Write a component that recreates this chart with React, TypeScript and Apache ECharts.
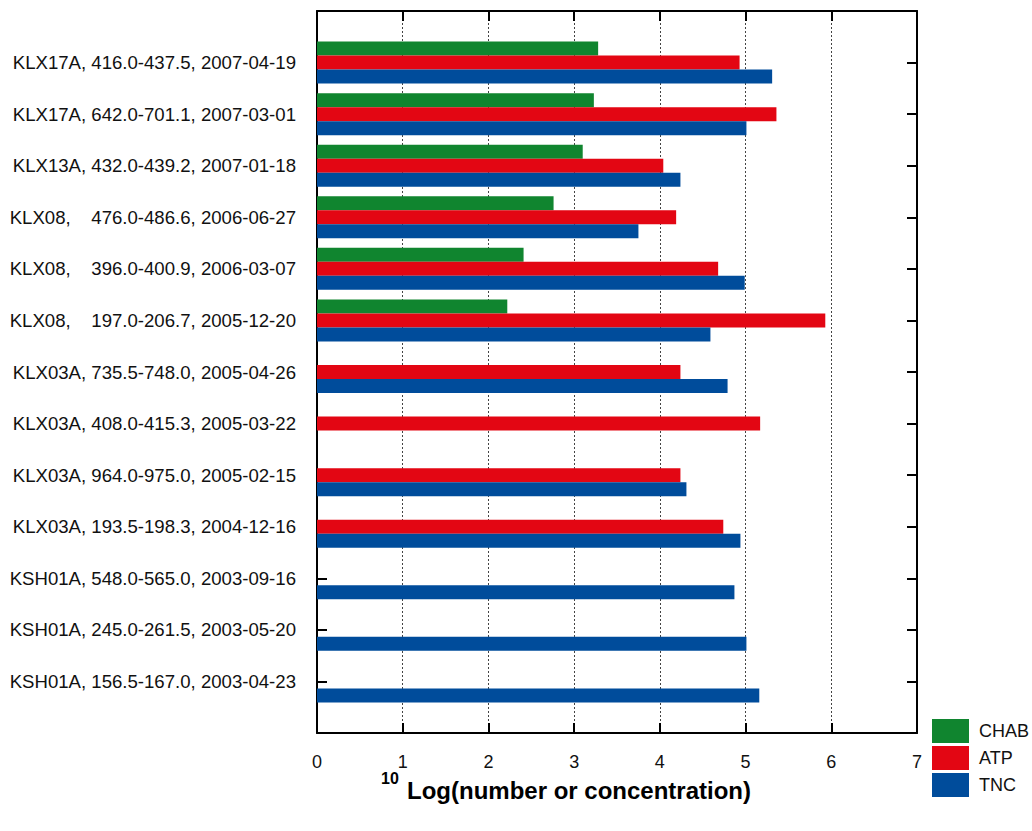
import React, { useEffect, useRef } from "react";
import * as echarts from "echarts";

const categories = [
  "KLX17A, 416.0-437.5, 2007-04-19",
  "KLX17A, 642.0-701.1, 2007-03-01",
  "KLX13A, 432.0-439.2, 2007-01-18",
  "KLX08,    476.0-486.6, 2006-06-27",
  "KLX08,    396.0-400.9, 2006-03-07",
  "KLX08,    197.0-206.7, 2005-12-20",
  "KLX03A, 735.5-748.0, 2005-04-26",
  "KLX03A, 408.0-415.3, 2005-03-22",
  "KLX03A, 964.0-975.0, 2005-02-15",
  "KLX03A, 193.5-198.3, 2004-12-16",
  "KSH01A, 548.0-565.0, 2003-09-16",
  "KSH01A, 245.0-261.5, 2003-05-20",
  "KSH01A, 156.5-167.0, 2003-04-23",
];

const chab: (number | null)[] = [3.28, 3.23, 3.1, 2.76, 2.41, 2.22, null, null, null, null, null, null, null];
const atp: (number | null)[] = [4.93, 5.36, 4.04, 4.19, 4.68, 5.93, 4.24, 5.17, 4.24, 4.74, null, null, null];
const tnc: (number | null)[] = [5.31, 5.01, 4.24, 3.75, 4.99, 4.59, 4.79, null, 4.31, 4.94, 4.87, 5.01, 5.16];

const xMin = 0;
const xMax = 7;
const xInterval = 1;

const seriesNames = ["CHAB", "ATP", "TNC"];
const colors = ["#10852f", "#e30613", "#004c9b"];

const FONT = "'Liberation Sans', Arial, Helvetica, sans-serif";

export default function App() {
  const ref = useRef<HTMLDivElement>(null);
  useEffect(() => {
    if (!ref.current) return;
    const chart = echarts.init(ref.current, undefined, { renderer: "svg" });
    const cats = ["", ...categories, ""];
    const pad = (arr: (number | null)[]) => [null, ...arr, null].map((v) => (v == null ? "-" : v));
    const lineStyle = { color: "#000", width: 2 };
    const valueAxisBase = {
      type: "value" as const,
      min: xMin,
      max: xMax,
      interval: xInterval,
      axisLine: { show: true, onZero: false, lineStyle },
      axisTick: { show: true, inside: true, length: 10, lineStyle: { color: "#000", width: 2 } },
    };
    const catAxisBase = {
      type: "category" as const,
      data: cats,
      inverse: true,
      boundaryGap: false,
      axisLine: { show: true, onZero: false, lineStyle },
      axisTick: { show: true, inside: true, length: 10, lineStyle: { color: "#000", width: 2 } },
      splitLine: { show: false },
    };
    chart.setOption({
      animation: false,
      color: colors,
      textStyle: { fontFamily: FONT },
      grid: { left: 317, right: 115, top: 11, bottom: 98, containLabel: false },
      legend: {
        orient: "vertical",
        left: 932,
        top: 719,
        padding: 0,
        icon: "rect",
        itemWidth: 37,
        itemHeight: 24,
        itemGap: 3,
        data: seriesNames,
        textStyle: { fontSize: 18, color: "#111", fontFamily: FONT, padding: [0, 0, 0, 5] },
      },
      xAxis: [
        {
          ...valueAxisBase,
          position: "bottom",
          axisLabel: { show: true, fontSize: 18, color: "#111", margin: 20, fontFamily: FONT },
          splitLine: { show: true, lineStyle: { color: "#444", type: [2, 2], width: 1 } },
        },
        {
          ...valueAxisBase,
          position: "top",
          axisLabel: { show: false },
          splitLine: { show: false },
        },
      ],
      yAxis: [
        {
          ...catAxisBase,
          position: "left",
          axisLabel: {
            show: true,
            fontSize: 18.6,
            color: "#111",
            margin: 21,
            fontFamily: FONT,
            padding: [6, 0, 0, 0],
          },
        },
        {
          ...catAxisBase,
          position: "right",
          axisLabel: { show: false },
        },
      ],
      series: [chab, atp, tnc].map((d, i) => ({
        name: seriesNames[i],
        type: "bar",
        data: pad(d),
        barWidth: 14,
        barGap: "0%",
        xAxisIndex: 0,
        yAxisIndex: 0,
        itemStyle: { color: colors[i] },
      })),
      graphic: [
        {
          type: "text",
          left: 381,
          top: 770,
          style: { text: "10", font: `bold 16px ${FONT}`, fill: "#000" },
        },
        {
          type: "text",
          left: 407,
          top: 778,
          style: { text: "Log(number or concentration)", font: `bold 24px ${FONT}`, fill: "#000" },
        },
      ],
    });
    return () => chart.dispose();
  }, []);
  return (
    <div
      ref={ref}
      style={{ position: "fixed", left: 0, top: 0, width: 1032, height: 831, background: "#fff" }}
    />
  );
}
